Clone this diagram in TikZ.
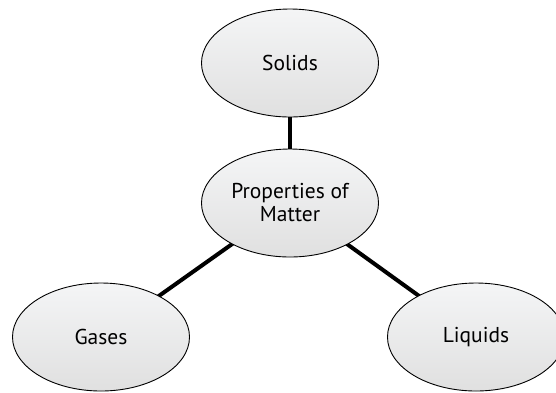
\documentclass[tikz,border=0pt]{standalone}
\usepackage{fontspec}
\setmainfont{PT Sans}
\usetikzlibrary{shapes.geometric}
\definecolor{fillTop}{HTML}{F4F5F6}
\definecolor{fillBot}{HTML}{E0E0E0}
\tikzset{
  topic/.style={ellipse, draw=black, line width=0.9pt, top color=fillTop, bottom color=fillBot,
    minimum width=177pt, minimum height=108pt, inner sep=0pt, align=center,
    font=\fontsize{21.5}{23}\selectfont},
  link/.style={line width=4pt, black}
}
\begin{document}
\begin{tikzpicture}[x=1pt,y=-1pt]
\useasboundingbox (0,0) rectangle (556,392);
\fill[white] (0,0) rectangle (556,392);
\coordinate (cs) at (290,63);
\coordinate (cp) at (290,203);
\coordinate (cg) at (101,337);
\coordinate (cl) at (476,337);
\draw[link] (cs) -- (cp);
\draw[link] (cp) -- (cg);
\draw[link] (cp) -- (cl);
\node[topic] (solids) at (cs) {Solids};
\node[topic] (props) at (cp) {Properties of\\Matter};
\node[topic] (gases) at (cg) {Gases};
\node[topic] (liquids) at (cl) {Liquids};
\end{tikzpicture}
\end{document}
